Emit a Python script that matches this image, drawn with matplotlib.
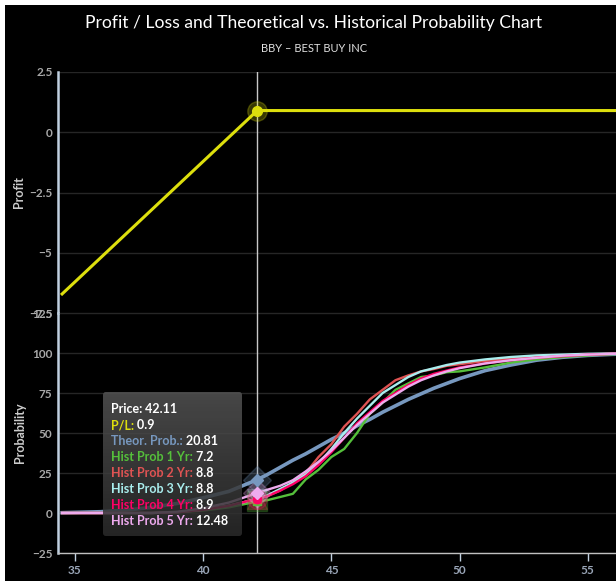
import matplotlib
matplotlib.use('Agg')
import matplotlib.pyplot as plt
import numpy as np
from matplotlib.patches import Rectangle, FancyBboxPatch

plt.rcParams['font.family'] = ['Lato', 'DejaVu Sans']

# dados
pl_price = [34.5, 42.11, 56.5]
pl_value = [-6.71, 0.9, 0.9]

prices = [34.5, 36, 37, 38, 39, 40, 41, 42.11, 42.5, 43, 43.5, 44, 44.5, 45, 45.5, 46, 46.5,
          47, 47.5, 48, 48.5, 49, 49.5, 50, 51, 52, 53, 54, 55, 56, 56.5]
theor = [0.2, 0.8, 1.8, 3.5, 6, 9.5, 13.5, 20.81, 24, 28.5, 33, 37, 41.5, 46, 50, 54.5, 58.5,
         63, 67, 71, 74.5, 78, 81, 84, 89, 92.5, 95.5, 97.3, 98.5, 99.2, 99.4]
hist1 = [0, 0, 0, 0, 0.5, 1.5, 3.5, 7.2, 8, 10, 12, 21, 27, 35, 40, 50, 62,
         69, 77, 81, 85, 86, 88, 88.5, 91, 94, 96, 97.5, 98.5, 99.3, 99.5]
hist2 = [0, 0, 0, 0, 0.5, 2, 4.5, 8.8, 10.5, 14, 19, 25, 35, 43, 54, 62, 71,
         77, 83, 86, 88.5, 90, 92, 93, 95, 96.5, 97.5, 98.5, 99.2, 99.6, 99.7]
hist3 = [0, 0, 0, 0, 0.5, 2, 4.5, 8.8, 11, 15, 19, 24, 31, 40, 50, 59, 67,
         75, 80, 85, 88.5, 90.5, 92.5, 94, 96, 97.5, 98.5, 99, 99.5, 99.7, 99.8]
hist4 = [0, 0, 0, 0, 0.5, 2, 4.5, 8.9, 10.5, 14, 18, 23, 30, 38, 47, 56, 63,
         70, 75, 80, 84, 87, 89, 91, 93.5, 95.5, 97, 98, 99, 99.5, 99.6]
hist5 = [0, 0, 0, 0, 0.8, 3, 6.5, 12.48, 14.5, 17, 20.5, 26, 32, 39, 47, 55, 62,
         69, 74, 79, 83, 86, 88.5, 90.5, 93.5, 95.5, 97, 98.3, 99, 99.5, 99.6]

price_now = 42.11
series = [
    ('Theor. Prob.', theor, '#7798BF', 'D', 20.81, 2.6),
    ('Hist Prob 1 Yr', hist1, '#55BF3B', 's', 7.2, 1.7),
    ('Hist Prob 2 Yr', hist2, '#DF5353', '^', 8.8, 1.7),
    ('Hist Prob 3 Yr', hist3, '#aaeeee', 'v', 8.8, 1.7),
    ('Hist Prob 4 Yr', hist4, '#ff0066', 'o', 8.9, 1.7),
    ('Hist Prob 5 Yr', hist5, '#eeaaee', 'D', 12.48, 1.7),
]

W, H = 616, 581
fig = plt.figure(figsize=(W / 100, H / 100), dpi=100, facecolor='white')
fig.patches.append(Rectangle((5 / W, 0), 1, 1 - 5 / H, transform=fig.transFigure,
                             facecolor='black', edgecolor='none', zorder=-10))

def fx(px):
    return px / W

def fy(py):
    return 1 - py / H

left = fx(58)
ax1 = fig.add_axes([left, fy(313), 1 - left, fy(72) - fy(313)])
ax2 = fig.add_axes([left, fy(553), 1 - left, fy(313) - fy(553)])

for ax in (ax1, ax2):
    ax.set_facecolor('none')
    ax.set_xlim(34.34, 56.1)
    for s in ('top', 'right'):
        ax.spines[s].set_visible(False)
    ax.spines['left'].set_color('#C0D0E0')
    ax.spines['left'].set_linewidth(1.8)
    ax.grid(axis='y', color='#262626', linewidth=1)
    ax.set_axisbelow(True)
    ax.tick_params(axis='y', length=0, pad=4, labelsize=8.5, labelcolor='#a8a8a8')
    ax.axvline(price_now, color='#c8c8c8', linewidth=1, zorder=2)

# painel de lucro
ax1.set_ylim(-7.5, 2.5)
ax1.set_yticks([-7.5, -5, -2.5, 0, 2.5])
ax1.set_yticklabels(['\u22127.5', '\u22125', '\u22122.5', '0', '2.5'])
ax1.spines['bottom'].set_visible(False)
ax1.tick_params(axis='x', bottom=False, labelbottom=False)
ax1.plot(pl_price, pl_value, color='#DDDF0D', linewidth=2.2, zorder=3)
ax1.plot([price_now], [0.9], 'o', color='#DDDF0D', ms=14, alpha=0.25, zorder=4)
ax1.plot([price_now], [0.9], 'o', color='#DDDF0D', ms=7, zorder=5)
ax1.set_ylabel('Profit', color='#cccccc', fontsize=9, fontweight='bold', labelpad=3)

# painel de probabilidade
ax2.set_ylim(-25, 125)
ax2.set_yticks([-25, 0, 25, 50, 75, 100, 125])
ax2.set_yticklabels(['\u221225', '0', '25', '50', '75', '100', '125'])
ax2.spines['bottom'].set_color('#C0C0C0')
ax2.spines['bottom'].set_linewidth(1)
ax2.set_xticks([35, 40, 45, 50, 55])
ax2.tick_params(axis='x', length=6, width=1, color='#C0D0E0', labelsize=8.5,
                labelcolor='#9aa6b8', pad=3)
ax2.set_ylabel('Probability', color='#cccccc', fontsize=9, fontweight='bold', labelpad=4.5)

for name, vals, col, mk, v, lw in series:
    ax2.plot(prices, vals, color=col, linewidth=lw, zorder=3)
for name, vals, col, mk, v, lw in series:
    ax2.plot([price_now], [v], mk, color=col, ms=14, alpha=0.25, zorder=4)
    ax2.plot([price_now], [v], mk, color=col, ms=6, zorder=5)

for lab in ax1.get_yticklabels() + ax2.get_yticklabels() + ax2.get_xticklabels():
    lab.set_fontweight('bold')

fig.text(fx(314), fy(23), 'Profit / Loss and Theoretical vs. Historical Probability Chart',
         ha='center', va='center', color='white', fontsize=12.6)
fig.text(fx(314), fy(49), 'BBY \u2013 BEST BUY INC', ha='center', va='center',
         color='#e0e0e0', fontsize=8)

# tooltip
tx0, tx1, ty0, ty1 = 103, 242, 392, 536
tip = fig.add_axes([fx(tx0), fy(ty1), fx(tx1) - fx(tx0), fy(ty0) - fy(ty1)])
tip.set_axis_off()
grad = np.zeros((100, 2, 4))
shade = np.linspace(0.33, 0.17, 100)
grad[:, :, 0] = shade[:, None]
grad[:, :, 1] = shade[:, None]
grad[:, :, 2] = shade[:, None]
grad[:, :, 3] = 0.85
img = tip.imshow(grad, extent=[0, 1, 0, 1], aspect='auto', zorder=1)
box = FancyBboxPatch((0, 0), 1, 1, boxstyle='round,pad=0,rounding_size=0.02',
                     transform=tip.transAxes, facecolor='none', edgecolor='none')
tip.add_patch(box)
img.set_clip_path(box)
tip.set_xlim(0, 1)
tip.set_ylim(0, 1)

lines = [('Price', 'white', '42.11'), ('P/L', '#DDDF0D', '0.9')]
lines += [(s[0], s[2], f'{s[4]:g}') for s in series]
for i, (lab, col, val) in enumerate(lines):
    t = fig.text(fx(111), fy(409 + 16 * i), lab + ':', color=col, fontsize=9,
                 fontweight='bold', va='center', ha='left', zorder=10)
    fig.add_artist(plt.Annotation(' ' + val, xy=(1, 0.5), xycoords=t, va='center', ha='left',
                                  color='white', fontsize=9, fontweight='bold', zorder=10))

fig.savefig('out.png', dpi=100, facecolor=fig.get_facecolor())
